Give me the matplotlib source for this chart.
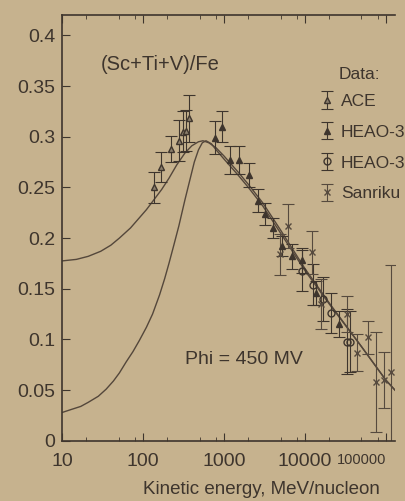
import matplotlib
matplotlib.use("Agg")
import matplotlib.pyplot as plt
from matplotlib.ticker import LogLocator, FixedLocator, NullFormatter

plt.rcParams['font.family'] = ['Liberation Sans', 'DejaVu Sans']

# ---- data (energy in MeV/nucleon, ratio) ----
ace_e = [135, 169, 222, 275, 316, 340, 375]
ace_r = [0.250, 0.270, 0.288, 0.296, 0.305, 0.306, 0.318]
ace_err = [0.015, 0.015, 0.013, 0.020, 0.020, 0.020, 0.023]

heao_e = [770, 950, 1200, 1550, 2030, 2620, 3170, 4070, 5200, 6900, 9100, 13800, 26100]
heao_r = [0.299, 0.310, 0.277, 0.277, 0.262, 0.237, 0.224, 0.210, 0.192, 0.182, 0.178, 0.146, 0.115]
heao_err = [0.016, 0.015, 0.014, 0.014, 0.012, 0.011, 0.011, 0.010, 0.010, 0.012, 0.012, 0.012, 0.013]

heao2_e = [9100, 12600, 16800, 21000, 33000, 36500]
heao2_r = [0.168, 0.154, 0.140, 0.126, 0.098, 0.098]
heao2_err = [0.020, 0.020, 0.022, 0.020, 0.032, 0.030]

sanriku_e = [4900, 6100, 12400, 16000, 33000, 44500, 60000, 76000, 96000, 117000]
sanriku_r = [0.184, 0.212, 0.186, 0.135, 0.125, 0.087, 0.102, 0.058, 0.060, 0.068]
sanriku_err = [0.020, 0.022, 0.021, 0.025, 0.018, 0.018, 0.016, 0.049, 0.028, 0.105]

# modulated model (phi = 450 MV)
mod_e = [10, 15, 21, 30, 40, 51, 70, 90, 110, 131, 170, 209, 260, 330, 400, 484, 550, 650,
         800, 1000, 1500, 2000, 3000, 5000, 10000, 20000, 50000, 100000, 130000]
mod_r = [0.1775, 0.179, 0.182, 0.187, 0.193, 0.200, 0.210, 0.220, 0.228, 0.236, 0.248, 0.259,
         0.272, 0.284, 0.291, 0.295, 0.296, 0.294,
         0.289, 0.281, 0.265, 0.253, 0.235, 0.208, 0.170, 0.136, 0.093, 0.060, 0.050]

# interstellar model
lis_e = [10, 13, 17, 21, 28, 35, 43, 51, 62, 75, 90, 110, 131, 160, 185, 209, 240, 277, 330,
         370, 430, 484, 540, 600, 700, 800, 1000, 1500, 2000, 3000, 5000, 10000, 20000,
         50000, 100000, 130000]
lis_r = [0.028, 0.031, 0.034, 0.038, 0.044, 0.051, 0.059, 0.067, 0.078, 0.088, 0.099, 0.112,
         0.125, 0.144, 0.160, 0.175, 0.193, 0.212, 0.238, 0.254, 0.275, 0.287, 0.294, 0.296,
         0.293, 0.287, 0.278, 0.262, 0.250, 0.232, 0.205, 0.168, 0.135, 0.093, 0.060, 0.050]

bg = '#c6b28e'
ink = '#3e352d'

fig = plt.figure(figsize=(4.06, 5.01), dpi=100, facecolor=bg)
ax = fig.add_axes([0.153, 0.12, 0.82, 0.85], facecolor=bg)

ax.plot(mod_e, mod_r, color='#54473b', lw=1.0)
ax.plot(lis_e, lis_r, color='#54473b', lw=1.0)

eb = dict(capsize=4, elinewidth=0.8, capthick=0.8, markersize=5, linestyle='none')
h1 = ax.errorbar(ace_e, ace_r, yerr=ace_err, fmt='^', color=ink, mfc='#8c7f6c', mec=ink, **eb)
h2 = ax.errorbar(heao_e, heao_r, yerr=heao_err, fmt='^', color=ink, mfc=ink, mec=ink, **eb)
h3 = ax.errorbar(heao2_e, heao2_r, yerr=heao2_err, fmt='o', color=ink, mfc='none', mec=ink, **eb)
h4 = ax.errorbar(sanriku_e, sanriku_r, yerr=sanriku_err, fmt='x', color='#564a3e', mec='#564a3e', **eb)

ax.set_xscale('log')
ax.set_xlim(10, 1.3e5)
ax.set_ylim(0, 0.42)
ax.set_yticks([0, 0.05, 0.1, 0.15, 0.2, 0.25, 0.3, 0.35, 0.4])
ax.set_yticklabels(['0', '0.05', '0.1', '0.15', '0.2', '0.25', '0.3', '0.35', '0.4'])
ax.xaxis.set_major_locator(FixedLocator([10, 100, 1000, 10000, 100000]))
ax.set_xticklabels(['10', '100', '1000', '10000', '100000'])
ax.xaxis.set_minor_locator(LogLocator(base=10, subs=[2, 5, 8]))
ax.xaxis.set_minor_formatter(NullFormatter())

ax.tick_params(axis='both', which='both', direction='in', colors=ink, labelcolor=ink, labelsize=14)
ax.tick_params(axis='x', which='both', top=True, pad=9)
ax.tick_params(axis='y', which='major', length=6, pad=5)
ax.tick_params(axis='x', which='major', length=6)
ax.tick_params(axis='x', which='minor', length=3)
last = ax.get_xticklabels()[-1]
last.set_fontsize(10.5)
last.set_horizontalalignment('right')
for s in ['left', 'bottom', 'top']:
    ax.spines[s].set_color(ink)
    ax.spines[s].set_linewidth(1.2)
ax.spines['right'].set_visible(False)

ax.set_xlabel('Kinetic energy, MeV/nucleon', fontsize=13.5, color=ink)
ax.xaxis.set_label_coords(0.6, -0.095)

ax.text(0.115, 0.885, '(Sc+Ti+V)/Fe', transform=ax.transAxes, fontsize=14.5, color=ink, va='center')
ax.text(0.37, 0.19, 'Phi = 450 MV', transform=ax.transAxes, fontsize=14, color=ink, va='center')
ax.text(0.83, 0.86, 'Data:', transform=ax.transAxes, fontsize=12.5, color=ink, va='center')

leg = ax.legend([h1, h2, h3, h4], ['ACE', 'HEAO-3', 'HEAO-3', 'Sanriku'],
                loc='upper left', bbox_to_anchor=(0.775, 0.815), frameon=False,
                fontsize=12.5, handlelength=0.8, handletextpad=0.4, labelspacing=0.9,
                borderpad=0, borderaxespad=0, labelcolor=ink)

fig.savefig('out.png', dpi=100, facecolor=bg)
